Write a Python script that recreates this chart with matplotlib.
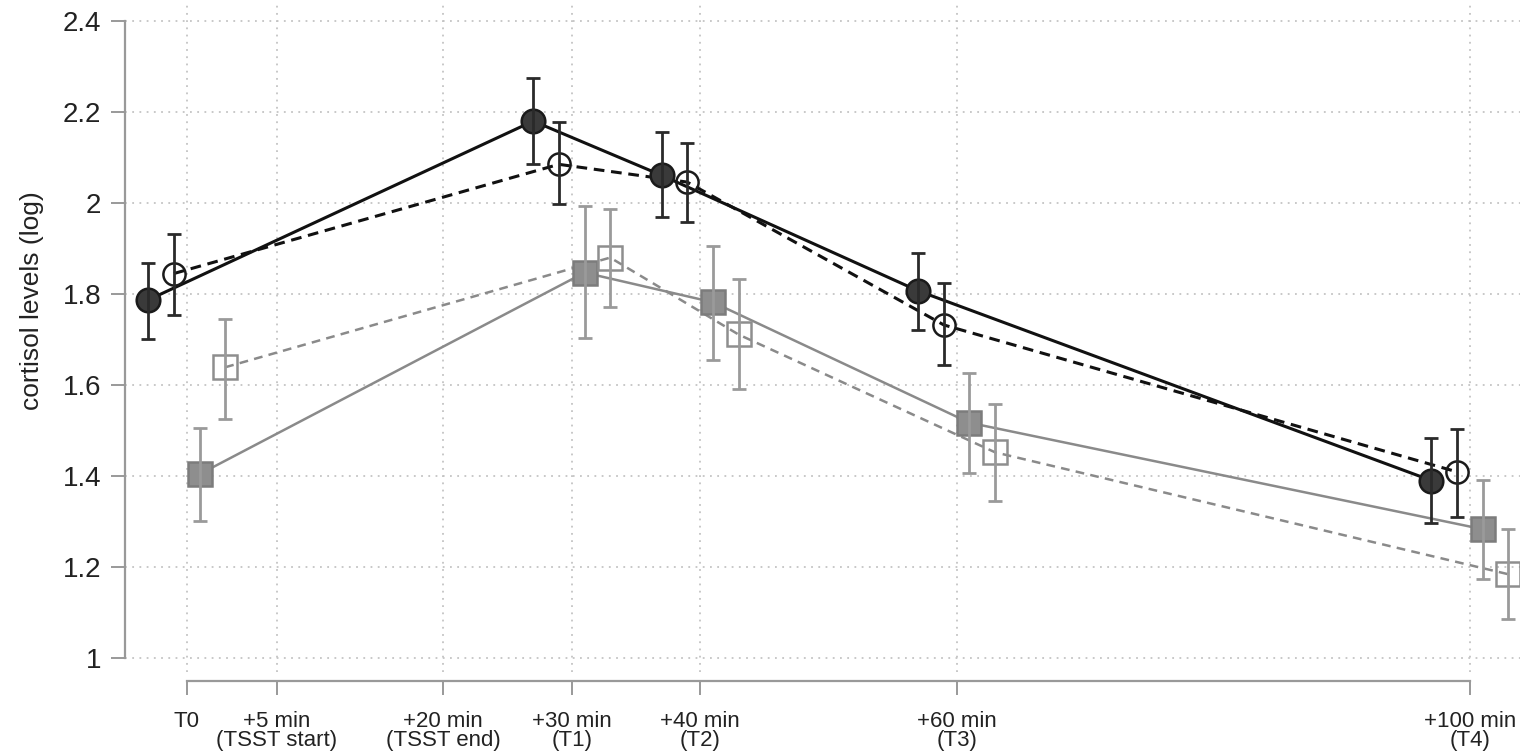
import numpy as np
import matplotlib
matplotlib.use('Agg')
import matplotlib.pyplot as plt

plt.rcParams['font.family'] = ['Liberation Sans', 'DejaVu Sans']

# measurement times (minutes after T0)
times = [0, 30, 40, 60, 100]

# cortisol (log) means with lower / upper error bar ends
filled_circle_mean = [1.787, 2.180, 2.061, 1.807, 1.390]
filled_circle_lo = [1.701, 2.085, 1.969, 1.721, 1.297]
filled_circle_hi = [1.869, 2.274, 2.155, 1.891, 1.483]

open_circle_mean = [1.845, 2.085, 2.046, 1.732, 1.409]
open_circle_lo = [1.753, 1.997, 1.958, 1.643, 1.310]
open_circle_hi = [1.932, 2.178, 2.131, 1.824, 1.503]

filled_square_mean = [1.404, 1.847, 1.782, 1.517, 1.283]
filled_square_lo = [1.301, 1.703, 1.656, 1.406, 1.173]
filled_square_hi = [1.506, 1.993, 1.906, 1.627, 1.391]

open_square_mean = [1.639, 1.880, 1.711, 1.452, 1.184]
open_square_lo = [1.526, 1.771, 1.591, 1.345, 1.085]
open_square_hi = [1.746, 1.987, 1.832, 1.559, 1.284]

tick_pos = [0, 7, 20, 30, 40, 60, 100]
tick_labels = ['T0', '+5 min\n(TSST start)', '+20 min\n(TSST end)',
               '+30 min\n(T1)', '+40 min\n(T2)', '+60 min\n(T3)',
               '+100 min\n(T4)']
y_ticks = [1, 1.2, 1.4, 1.6, 1.8, 2, 2.2, 2.4]
y_tick_labels = ['1', '1.2', '1.4', '1.6', '1.8', '2', '2.2', '2.4']


def draw_series(ax, offset, mean, lo, hi, marker, line_color, face, edge,
                err_color, ls, lw, ms):
    x = np.array(times) + offset
    mean = np.array(mean)
    yerr = [mean - np.array(lo), np.array(hi) - mean]
    ax.plot(x, mean, color=line_color, linestyle=ls, linewidth=lw, zorder=3)
    ax.plot(x, mean, linestyle='none', marker=marker, markersize=ms,
            markerfacecolor=face, markeredgecolor=edge, markeredgewidth=1.8,
            zorder=4)
    ax.errorbar(x, mean, yerr=yerr, fmt='none', ecolor=err_color,
                elinewidth=2.0, capsize=5, capthick=2.0, zorder=5)


fig = plt.figure(figsize=(15.2, 7.54), dpi=100)
ax = fig.add_axes([125 / 1520, 1 - 672 / 754, 1395 / 1520, 670 / 754])

draw_series(ax, -3, filled_circle_mean, filled_circle_lo, filled_circle_hi,
            'o', '#111111', '#3a3a3a', '#1a1a1a', '#2a2a2a', '-', 2.2, 17)
draw_series(ax, -1, open_circle_mean, open_circle_lo, open_circle_hi,
            'o', '#111111', 'none', '#1a1a1a', '#2a2a2a', (0, (3.5, 2.2)), 2.2, 16)
draw_series(ax, 1, filled_square_mean, filled_square_lo, filled_square_hi,
            's', '#8a8a8a', '#8e8e8e', '#7c7c7c', '#9a9a9a', '-', 1.8, 17)
draw_series(ax, 3, open_square_mean, open_square_lo, open_square_hi,
            's', '#8a8a8a', 'none', '#8e8e8e', '#9a9a9a', (0, (3.5, 2.5)), 1.8, 17)

ax.set_xlim(-4.81, 103.9)
ax.set_ylim(0.9692, 2.4418)

ax.set_xticks(tick_pos)
ax.set_xticklabels(tick_labels)
ax.set_yticks(y_ticks)
ax.set_yticklabels(y_tick_labels)
ax.set_ylabel('cortisol levels (log)', fontsize=19, color='#222222')
ax.yaxis.set_label_coords(-0.058, 0.555)

for name in ['top', 'right']:
    ax.spines[name].set_visible(False)
ax.spines['left'].set_bounds(1, 2.4)
ax.spines['bottom'].set_bounds(0, 100)
ax.spines['bottom'].set_position(('outward', 6.5))
for name in ['left', 'bottom']:
    ax.spines[name].set_color('#999999')
    ax.spines[name].set_linewidth(1.6)

ax.tick_params(axis='y', length=10, width=1.4, color='#999999', pad=7,
               labelsize=20, labelcolor='#222222')
ax.tick_params(axis='x', length=10, width=1.4, color='#999999', pad=11.5,
               labelsize=16, labelcolor='#222222')

ax.grid(True, color='#c4c4c4', linestyle=(0, (1, 3)), linewidth=1.3)
ax.set_axisbelow(True)

# tighter two-line tick labels, set last so nothing resets them
for lbl in ax.get_xticklabels():
    lbl.set_linespacing(0.88)

fig.savefig('out.png', dpi=100, facecolor='white')
